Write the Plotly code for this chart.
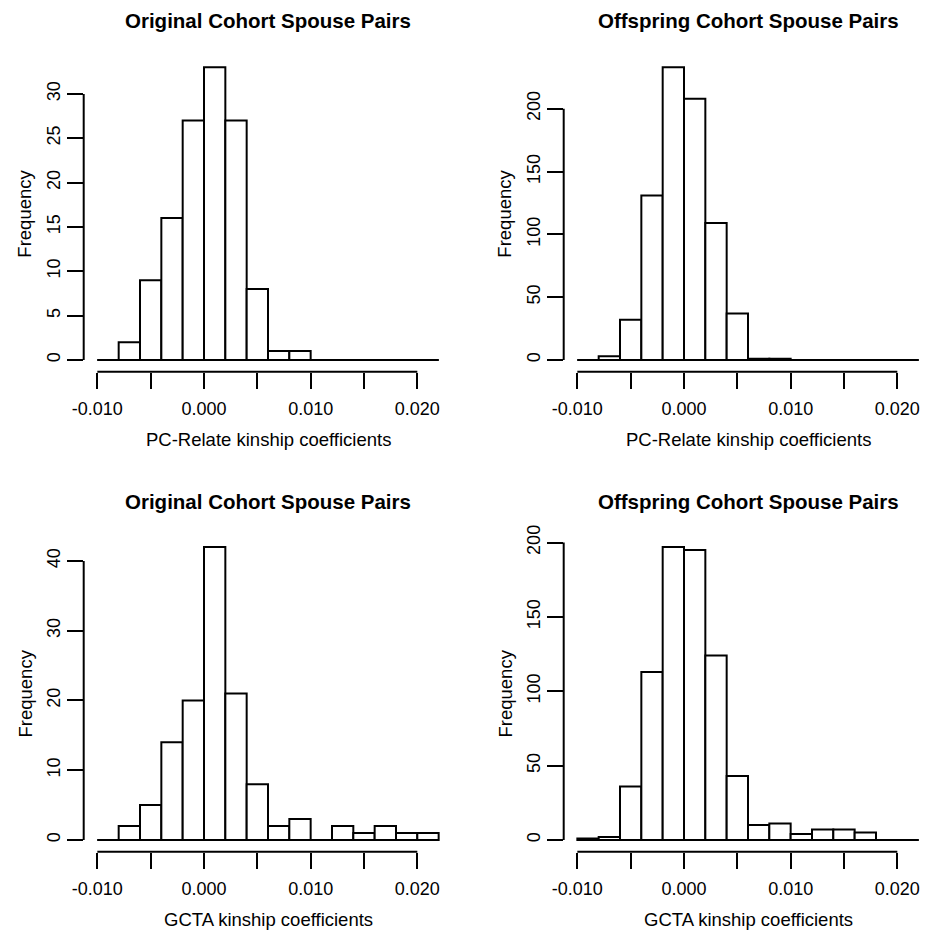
import plotly.graph_objects as go

# ---------------- data ----------------
bin_edges = [-0.010, -0.008, -0.006, -0.004, -0.002, 0.000, 0.002, 0.004,
             0.006, 0.008, 0.010, 0.012, 0.014, 0.016, 0.018, 0.020, 0.022]

pc_original = [0, 2, 9, 16, 27, 33, 27, 8, 1, 1, 0, 0, 0, 0, 0, 0]
pc_offspring = [0, 3, 32, 131, 233, 208, 109, 37, 1, 1, 0, 0, 0, 0, 0, 0]
gcta_original = [0, 2, 5, 14, 20, 42, 21, 8, 2, 3, 0, 2, 1, 2, 1, 1]
gcta_offspring = [1, 2, 36, 113, 197, 195, 124, 43, 10, 11, 4, 7, 7, 5, 0, 0]

x_tickvals = [-0.010, -0.005, 0.000, 0.005, 0.010, 0.015, 0.020]
x_ticktext = ["-0.010", "", "0.000", "", "0.010", "", "0.020"]

y_ticks_pc_original = [0, 5, 10, 15, 20, 25, 30]
y_ticks_pc_offspring = [0, 50, 100, 150, 200]
y_ticks_gcta_original = [0, 10, 20, 30, 40]
y_ticks_gcta_offspring = [0, 50, 100, 150, 200]

titles = ["Original Cohort Spouse Pairs", "Offspring Cohort Spouse Pairs",
          "Original Cohort Spouse Pairs", "Offspring Cohort Spouse Pairs"]
x_titles = ["PC-Relate kinship coefficients", "PC-Relate kinship coefficients",
            "GCTA kinship coefficients", "GCTA kinship coefficients"]

panels = [
    (pc_original, y_ticks_pc_original),
    (pc_offspring, y_ticks_pc_offspring),
    (gcta_original, y_ticks_gcta_original),
    (gcta_offspring, y_ticks_gcta_offspring),
]

# ---------------- layout geometry (page pixels) ----------------
OFF = 8                      # page body margin in the browser
W, H = 928 - OFF, 930 - OFF  # figure fits exactly inside the window
FONT = "Liberation Sans, Arial, Helvetica, sans-serif"
LW = 2
region_x = [(83.7 - OFF, 452.3 - OFF), (563.7 - OFF, 928.0 - OFF)]
region_y = [(55.6 - OFF, 371.7 - OFF), (535.3 - OFF, 851.7 - OFF)]
full_w = region_x[0][1] - region_x[0][0]

span = bin_edges[-1] - bin_edges[0]
x0_range = bin_edges[0] - 0.04 * span
x1_range = bin_edges[-1] + 0.04 * span
px_per_unit = full_w / (x1_range - x0_range)

fig = go.Figure()
layout = dict(
    width=W, height=H, autosize=False,
    margin=dict(l=0, r=0, t=0, b=0, pad=0, autoexpand=False),
    paper_bgcolor="white", plot_bgcolor="white",
    showlegend=False,
    font=dict(family=FONT, size=18, color="black"),
    shapes=[], annotations=[],
)

centers = [(bin_edges[i] + bin_edges[i + 1]) / 2 for i in range(len(bin_edges) - 1)]
widths = [bin_edges[i + 1] - bin_edges[i] for i in range(len(bin_edges) - 1)]

for k, (counts, yticks) in enumerate(panels):
    row, col = divmod(k, 2)
    n = k + 1
    xa = "x" if n == 1 else f"x{n}"
    ya = "y" if n == 1 else f"y{n}"
    xkey = "xaxis" if n == 1 else f"xaxis{n}"
    ykey = "yaxis" if n == 1 else f"yaxis{n}"

    rx0, rx1 = region_x[col]
    ry0, ry1 = region_y[row]
    xr1 = x0_range + (rx1 - rx0) / px_per_unit
    ymax = max(counts)

    # baseline (zero-height bins appear as lines, like R's hist)
    fig.add_trace(go.Scatter(
        x=[bin_edges[0], bin_edges[-1]], y=[0, 0], mode="lines",
        line=dict(color="black", width=LW), xaxis=xa, yaxis=ya,
        hoverinfo="skip"))
    fig.add_trace(go.Bar(
        x=centers, y=counts, width=widths,
        marker=dict(color="white", line=dict(color="black", width=LW)),
        xaxis=xa, yaxis=ya))

    layout[xkey] = dict(
        domain=[rx0 / W, min(rx1 / W, 1.0)], anchor=ya, automargin=False,
        range=[x0_range, xr1], showgrid=False, zeroline=False, showline=False,
        tickmode="array", tickvals=x_tickvals, ticktext=x_ticktext,
        ticks="outside", ticklen=16, tickwidth=LW, tickcolor="black",
        ticklabelstandoff=5,
        tickfont=dict(family=FONT, size=18, color="black"),
    )
    layout[ykey] = dict(
        domain=[1 - ry1 / H, 1 - ry0 / H], anchor=xa, automargin=False,
        range=[-0.04 * ymax, 1.04 * ymax], showgrid=False, zeroline=False,
        showline=False, tickmode="array", tickvals=yticks,
        ticktext=[str(v) for v in yticks],
        ticks="outside", ticklen=16, tickwidth=LW, tickcolor="black",
        tickangle=-90,
        tickfont=dict(family=FONT, size=18, color="black"),
    )

    # R-style axis lines spanning first to last tick
    layout["shapes"].append(dict(
        type="line", xref=xa, yref=f"{ya} domain",
        x0=x_tickvals[0], x1=x_tickvals[-1], y0=0, y1=0,
        line=dict(color="black", width=LW)))
    layout["shapes"].append(dict(
        type="line", xref=f"{xa} domain", yref=ya,
        x0=0, x1=0, y0=yticks[0], y1=yticks[-1],
        line=dict(color="black", width=LW)))

    cx = rx0 + full_w / 2
    layout["annotations"].append(dict(
        text=f"<b>{titles[k]}</b>", xref="paper", yref="paper",
        x=cx / W, y=1 - (21 - OFF + 480 * row) / H, xanchor="center", yanchor="middle",
        showarrow=False, font=dict(family=FONT, size=20.5, color="black")))
    layout["annotations"].append(dict(
        text=x_titles[k], xref="paper", yref="paper",
        x=cx / W, y=1 - (439 - OFF + 480 * row) / H, xanchor="center", yanchor="middle",
        showarrow=False, font=dict(family=FONT, size=18.5, color="black")))
    layout["annotations"].append(dict(
        text="Frequency", xref="paper", yref="paper", textangle=-90,
        x=(25 - OFF + 480 * col) / W, y=1 - (ry0 + ry1) / 2 / H,
        xanchor="center", yanchor="middle",
        showarrow=False, font=dict(family=FONT, size=18.5, color="black")))

fig.update_layout(**layout)
fig.write_html("out.html")
